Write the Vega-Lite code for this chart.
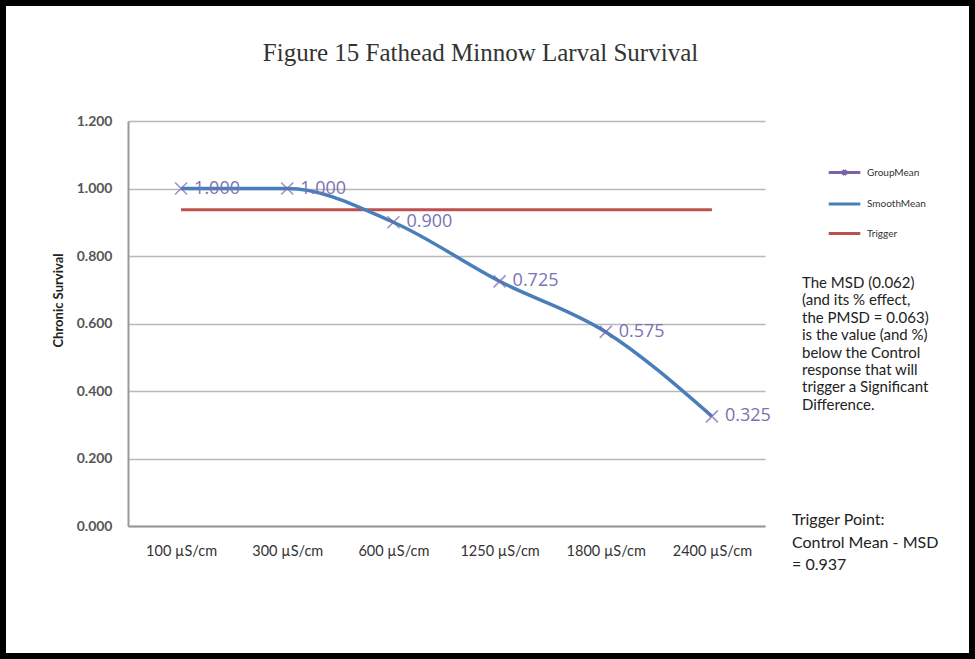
{
  "$schema": "https://vega.github.io/schema/vega-lite/v6.json",
  "width": 975,
  "height": 659,
  "autosize": {"type": "none"},
  "padding": 0,
  "background": "white",
  "config": {
    "view": {"stroke": "black", "strokeWidth": 12, "fill": "white"},
    "font": "Lato"
  },
  "title": {
    "text": "Figure 15 Fathead Minnow Larval Survival",
    "font": "Liberation Serif",
    "fontSize": 25,
    "fontWeight": "normal",
    "color": "#333333",
    "anchor": "middle",
    "frame": "group",
    "dx": -7,
    "offset": -86,
    "baseline": "alphabetic"
  },
  "data": {
    "values": [
      {"conductivity": "100 µS/cm", "survival": 1.0, "series": "GroupMean"},
      {"conductivity": "300 µS/cm", "survival": 1.0, "series": "GroupMean"},
      {"conductivity": "600 µS/cm", "survival": 0.9, "series": "GroupMean"},
      {"conductivity": "1250 µS/cm", "survival": 0.725, "series": "GroupMean"},
      {"conductivity": "1800 µS/cm", "survival": 0.575, "series": "GroupMean"},
      {"conductivity": "2400 µS/cm", "survival": 0.325, "series": "GroupMean"},
      {"conductivity": "100 µS/cm", "survival": 1.0, "series": "SmoothMean"},
      {"conductivity": "300 µS/cm", "survival": 1.0, "series": "SmoothMean"},
      {"conductivity": "600 µS/cm", "survival": 0.9, "series": "SmoothMean"},
      {"conductivity": "1250 µS/cm", "survival": 0.725, "series": "SmoothMean"},
      {"conductivity": "1800 µS/cm", "survival": 0.575, "series": "SmoothMean"},
      {"conductivity": "2400 µS/cm", "survival": 0.325, "series": "SmoothMean"},
      {"conductivity": "100 µS/cm", "survival": 0.937, "series": "Trigger"},
      {"conductivity": "300 µS/cm", "survival": 0.937, "series": "Trigger"},
      {"conductivity": "600 µS/cm", "survival": 0.937, "series": "Trigger"},
      {"conductivity": "1250 µS/cm", "survival": 0.937, "series": "Trigger"},
      {"conductivity": "1800 µS/cm", "survival": 0.937, "series": "Trigger"},
      {"conductivity": "2400 µS/cm", "survival": 0.937, "series": "Trigger"}
    ]
  },
  "encoding": {
    "x": {
      "field": "conductivity",
      "type": "ordinal",
      "sort": ["100 µS/cm", "300 µS/cm", "600 µS/cm", "1250 µS/cm", "1800 µS/cm", "2400 µS/cm"],
      "scale": {"range": [128, 765], "paddingInner": 0, "paddingOuter": 0},
      "axis": {
        "offset": -133,
        "ticks": false,
        "labelAngle": 0,
        "domainColor": "#999999",
        "domainWidth": 2,
        "labelFont": "Lato",
        "labelFontSize": 14.5,
        "labelColor": "#333333",
        "labelPadding": 18,
        "title": null,
        "grid": false
      }
    },
    "y": {
      "field": "survival",
      "type": "quantitative",
      "scale": {"domain": [0, 1.2], "range": [526, 121], "nice": false},
      "axis": {
        "values": [0, 0.2, 0.4, 0.6, 0.8, 1.0, 1.2],
        "format": ".3f",
        "offset": -128,
        "ticks": false,
        "domainColor": "#999999",
        "domainWidth": 2,
        "gridColor": "#b8b8b8",
        "gridWidth": 1.5,
        "labelFont": "Lato",
        "labelFontWeight": "bold",
        "labelFontSize": 14,
        "labelColor": "#555555",
        "labelPadding": 16,
        "title": "Chronic Survival",
        "titleFont": "Lato",
        "titleFontSize": 13,
        "titleFontWeight": "bold",
        "titleColor": "#222222",
        "titleX": -70,
        "titleY": 300,
        "titleAngle": -90,
        "titleBaseline": "middle",
        "titleAlign": "center"
      }
    }
  },
  "layer": [
    {
      "transform": [{"filter": "datum.series === 'Trigger'"}],
      "mark": {"type": "line", "strokeWidth": 3},
      "encoding": {
        "color": {
          "field": "series",
          "type": "nominal",
          "scale": {"domain": ["GroupMean", "SmoothMean", "Trigger"], "range": ["#7e62a6", "#4a7ebb", "#c0504d"]},
          "legend": {
            "orient": "none",
            "legendX": 827,
            "legendY": 155,
            "title": null,
            "symbolType": "stroke",
            "symbolSize": 1000,
            "symbolStrokeWidth": 3,
            "rowPadding": 5.5,
            "labelFont": "Lato",
            "labelFontSize": 10,
            "labelColor": "#333333",
            "labelOffset": 5,
            "padding": 0,
            "encode": {
              "symbols": {
                "update": {
                  "shape": [
                    {"test": "datum.value === 'GroupMean'", "value": "M-1,0L1,0M-0.12,-0.15L0.12,0.15M-0.12,0.15L0.12,-0.15"},
                    {"value": "stroke"}
                  ],
                  "fill": {"value": "transparent"}
                }
              }
            }
          }
        },
        "strokeDash": {
          "field": "series",
          "type": "nominal",
          "scale": {"domain": ["Trigger"], "range": [[1, 0]]},
          "legend": {
            "orient": "none",
            "legendX": 792,
            "legendY": 512,
            "title": ["Trigger Point:", "Control Mean - MSD", "= 0.937"],
            "titleFont": "Lato",
            "titleFontSize": 16,
            "titleFontWeight": "normal",
            "titleColor": "#222222",
            "titleLineHeight": 22.5,
            "titleLimit": 400,
            "symbolOpacity": 0,
            "labelOpacity": 0,
            "padding": 0
          }
        }
      }
    },
    {
      "transform": [{"filter": "datum.series === 'SmoothMean'"}],
      "mark": {"type": "line", "strokeWidth": 3.5, "interpolate": "monotone"},
      "encoding": {
        "color": {"field": "series", "type": "nominal"}
      }
    },
    {
      "transform": [{"filter": "datum.series === 'GroupMean'"}],
      "mark": {"type": "point", "filled": false, "strokeWidth": 1.6, "size": 144, "color": "#7466ad"},
      "encoding": {
        "shape": {
          "field": "series",
          "type": "nominal",
          "scale": {"domain": ["GroupMean"], "range": ["M-1,-1L1,1M-1,1L1,-1"]},
          "legend": {
            "orient": "none",
            "legendX": 802,
            "legendY": 276,
            "title": ["The MSD (0.062)", "(and its % effect,", "the PMSD = 0.063)", "is the value (and %)", "below the Control", "response that will", "trigger a Significant", "Difference."],
            "titleFont": "Lato",
            "titleFontSize": 15,
            "titleFontWeight": "normal",
            "titleColor": "#222222",
            "titleLineHeight": 17.4,
            "titleLimit": 400,
            "symbolOpacity": 0,
            "labelOpacity": 0,
            "padding": 0
          }
        }
      }
    },
    {
      "transform": [{"filter": "datum.series === 'GroupMean'"}],
      "mark": {"type": "text", "align": "left", "baseline": "middle", "dx": 13, "font": "Open Sans", "fontSize": 18, "color": "#7a73b3"},
      "encoding": {
        "text": {"field": "survival", "type": "quantitative", "format": ".3f"}
      }
    }
  ]
}
